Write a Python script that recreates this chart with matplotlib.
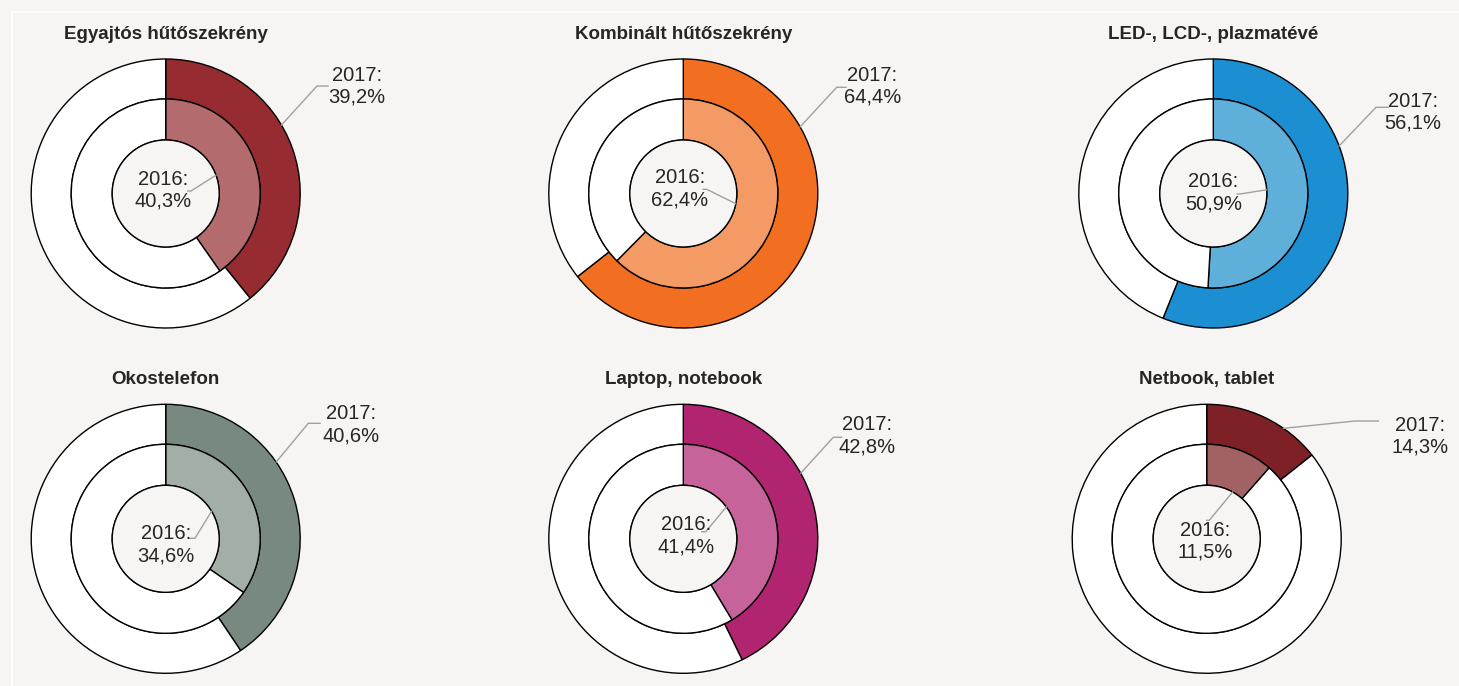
import numpy as np
import matplotlib.pyplot as plt
from matplotlib.patches import Circle
from matplotlib.lines import Line2D

# data
categories = ["Egyajtós hűtőszekrény", "Kombinált hűtőszekrény", "LED-, LCD-, plazmatévé",
              "Okostelefon", "Laptop, notebook", "Netbook, tablet"]
share_2017 = [39.2, 64.4, 56.1, 40.6, 42.8, 14.3]
share_2016 = [40.3, 62.4, 50.9, 34.6, 41.4, 11.5]
years = ["2017", "2016"]

outer_colors = ["#962b31", "#f26f21", "#1b8fd2", "#788a7f", "#b02470", "#7d2126"]
inner_colors = ["#b36b6e", "#f49a64", "#5fafdb", "#a3aea6", "#c6639a", "#a26263"]

# layout (pixels)
W, H = 1459, 686
BG = "#f6f5f3"
R_PX = 134.5
S_PX = 250
centers = [(165.7, 193.5), (683.3, 193.5), (1213.3, 193.5),
           (165.7, 538.8), (683.3, 538.8), (1206.7, 538.8)]
# leader for outer label: start angle, elbow, end, text (px, relative to centre, y up)
outer_leaders = [
    (59.4, (151.3, 107.5), (162.3, 107.5), (191.0, 107.5)),
    (60.3, (153.4, 106.2), (162.7, 106.2), (189.0, 107.5)),
    (69.3, (162.7, 86.2), (175.0, 86.2), (199.7, 81.5)),
    (55.2, (142.6, 115.5), (154.3, 115.5), (185.0, 114.3)),
    (60.8, (150.0, 101.5), (158.3, 101.5), (183.4, 103.0)),
    (34.8, (148.3, 117.8), (171.6, 117.8), (213.0, 102.5)),
]
inner_leaders = [
    (70, (25.3, 2.5), (22.0, 2.5), (-2.5, 3.5)),
    (101, (23.4, 4.2), (20.0, 4.2), (-3.3, 5.0)),
    (86, (26.7, -0.5), (24.0, -0.5), (0.0, 1.0)),
    (59, (29.3, 0.5), (24.3, 0.5), (0.0, -6.0)),
    (53.5, (22.4, 7.1), (18.4, 7.1), (2.4, 3.0)),
    (29, (2.6, 18.5), (0.0, 18.5), (-1.7, -2.5)),
]

R_MID = 94.5 / R_PX
R_HOLE = 53.5 / R_PX
LEADER = "#a0a0a0"
TXT = "#262626"

plt.rcParams["font.family"] = ["Liberation Sans Narrow", "Liberation Sans", "DejaVu Sans"]

fig = plt.figure(figsize=(W / 100, H / 100), dpi=100, facecolor=BG)

# thin white frame lines
fig.add_artist(Line2D([11.5 / W, 1], [1 - 11.5 / H, 1 - 11.5 / H], color="white", lw=1.3))
fig.add_artist(Line2D([11.5 / W, 11.5 / W], [0, 1 - 11.5 / H], color="white", lw=1.3))


def px(p):
    return p[0] / R_PX, p[1] / R_PX


def polar(angle, r):
    a = np.radians(angle)
    return r * np.sin(a), r * np.cos(a)


for i, name in enumerate(categories):
    cx, cy = centers[i]
    ax = fig.add_axes([(cx - S_PX) / W, (H - cy - S_PX) / H, 2 * S_PX / W, 2 * S_PX / H])
    ax.set_facecolor("none")
    v17, v16 = share_2017[i], share_2016[i]
    wp = dict(edgecolor="black", linewidth=1.0)
    ax.pie([v17, 100 - v17], radius=1.0, startangle=90, counterclock=False,
           colors=[outer_colors[i], "white"], wedgeprops=dict(width=1.0 - R_MID, **wp))
    ax.pie([v16, 100 - v16], radius=R_MID, startangle=90, counterclock=False,
           colors=[inner_colors[i], "white"], wedgeprops=dict(width=R_MID - R_HOLE, **wp))
    ax.add_patch(Circle((0, 0), R_HOLE, facecolor=BG, edgecolor="black", linewidth=1.0, zorder=3))
    lim = S_PX / R_PX
    ax.set_xlim(-lim, lim)
    ax.set_ylim(-lim, lim)
    ax.axis("off")

    ax.text(0, 155 / R_PX, name, ha="center", va="baseline", fontsize=13.5,
            fontweight="bold", color=TXT)

    # 2017 label
    ang, elbow, end, tpos = outer_leaders[i]
    sx, sy = polar(ang, 1.0)
    ex, ey = px(elbow)
    nx, ny = px(end)
    ax.plot([sx, ex, nx], [sy, ey, ny], color=LEADER, lw=1.0, zorder=4, clip_on=False)
    tx, ty = px(tpos)
    ax.text(tx, ty, f"{years[0]}:\n{v17:.1f}%".replace(".", ","), ha="center", va="center",
            fontsize=14.5, color=TXT, linespacing=1.2)

    # 2016 label
    ang, elbow, end, tpos = inner_leaders[i]
    sx, sy = polar(ang, R_HOLE)
    ex, ey = px(elbow)
    nx, ny = px(end)
    ax.plot([sx, ex, nx], [sy, ey, ny], color=LEADER, lw=1.0, zorder=4)
    tx, ty = px(tpos)
    ax.text(tx, ty, f"{years[1]}:\n{v16:.1f}%".replace(".", ","), ha="center", va="center",
            fontsize=14.5, color=TXT, linespacing=1.2, zorder=5)

fig.savefig("out.png", dpi=100, facecolor=fig.get_facecolor())
